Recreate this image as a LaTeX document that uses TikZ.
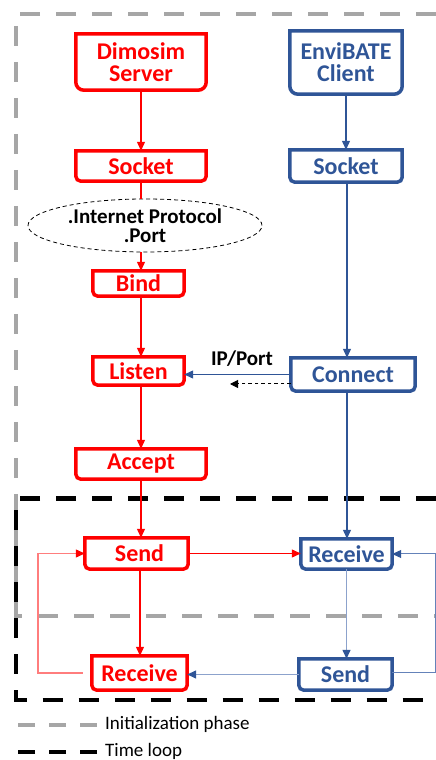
\documentclass[tikz,border=0pt]{standalone}
\usepackage{fontspec}
\setmainfont{Carlito}
\usetikzlibrary{arrows.meta,shapes.geometric}
\definecolor{cblue}{RGB}{47,85,151}
\definecolor{lblue}{RGB}{140,162,204}
\definecolor{mblue}{RGB}{100,130,185}
\definecolor{lred}{RGB}{255,125,125}
\definecolor{gdash}{RGB}{166,166,166}
\begin{document}
\begin{tikzpicture}[x=1pt,y=1pt,
  box/.style={inner sep=0pt, font=\fontsize{24}{22}\selectfont\bfseries, align=center},
  rbox/.style={box, text=red},
  bbox/.style={box, text=cblue},
  tip/.style={-{Triangle[length=9pt,width=8pt]}},
  rline/.style={red, line width=1.2pt},
  bline/.style={cblue, line width=1.2pt},
  gframe/.style={gdash, line width=4.5pt, dash pattern=on 20pt off 16pt},
  kframe/.style={black, line width=4.5pt, dash pattern=on 20pt off 16pt},
 ]
\useasboundingbox (0,0) rectangle (436,760);

% frames
\draw[gframe] (436,746) -- (16,746) -- (16,144) -- (436,144);
\draw[kframe] (436,261.5) -- (16,261.5) -- (16,60) -- (436,60);

% red column
\node[rbox, minimum width=130pt, minimum height=56pt] (dimo) at (141,698) {Dimosim\\Server};
\node[rbox, minimum width=130pt, minimum height=30pt] (sockR) at (141,594) {Socket};
\node[draw, dashed, dash pattern=on 4pt off 3pt, line width=0.8pt, ellipse, minimum width=234pt, minimum height=53pt, inner sep=0pt,
      font=\fontsize{21}{19}\selectfont\bfseries, align=center] (ip) at (145,534.5) {.Internet Protocol\\.Port};
\node[rbox, minimum width=91pt, minimum height=25pt] (bind) at (138.5,476.5) {Bind};
\node[rbox, minimum width=91pt, minimum height=28pt] (listen) at (138.5,389) {Listen};
\node[rbox, minimum width=130pt, minimum height=30pt] (accept) at (141,296) {Accept};
\node[rbox, minimum width=103pt, minimum height=31pt] (sendR) at (136.5,206.5) {\hspace*{6pt}Send};
\node[rbox, minimum width=95pt, minimum height=34pt] (recvR) at (139.5,87) {Receive};

% blue column
\node[bbox, minimum width=112pt, minimum height=63pt] (envi) at (346,697.5) {EnviBATE\\Client};
\node[bbox, minimum width=112pt, minimum height=32pt] (sockB) at (346,594) {Socket};
\node[bbox, minimum width=124pt, minimum height=33pt] (connect) at (353,385.5) {Connect};
\node[bbox, minimum width=91pt, minimum height=30pt] (recvB) at (346.5,206) {Receive};
\node[bbox, minimum width=93pt, minimum height=31pt] (sendB) at (345.5,85.5) {Send};

% box outlines (square top, rounded bottom)
\foreach \n/\c/\r in {dimo/red/8, sockR/red/5, bind/red/5, listen/red/5, accept/red/5, sendR/red/5, recvR/red/5,
                      envi/cblue/8, sockB/cblue/5, connect/cblue/5, recvB/cblue/5, sendB/cblue/5}
  \draw[\c, line width=3.5pt, line join=miter]
    (\n.north west) -- ([yshift=\r pt]\n.south west) arc[start angle=180, end angle=270, radius=\r pt]
    -- ([xshift=-\r pt]\n.south east) arc[start angle=270, end angle=360, radius=\r pt]
    -- (\n.north east) -- cycle;

% red connectors
\draw[rline, tip] (dimo.south) -- (sockR.north);
\draw[rline] (sockR.south) -- (sockR.south |- ip.north);
\draw[rline, tip] (sockR.south |- ip.south) -- (sockR.south |- bind.north);
\draw[rline, tip] (sockR.south |- bind.south) -- (sockR.south |- listen.north);
\draw[rline, tip] (sockR.south |- listen.south) -- (accept.north);
\draw[rline, tip] (accept.south) -- (accept.south |- sendR.north);
\draw[rline, tip] ([xshift=-1pt]accept.south |- sendR.south) -- ([xshift=-1pt]accept.south |- recvR.north);

% blue connectors
\draw[bline, tip] (envi.south) -- (sockB.north);
\draw[bline, tip] ([xshift=1pt]sockB.south) -- ([xshift=1pt]sockB.south |- connect.north);
\draw[bline, tip] ([xshift=1pt]sockB.south |- connect.south) -- ([xshift=1pt]sockB.south |- recvB.north);
\draw[lblue, line width=1.4pt, -{Triangle[length=9pt,width=8pt,color=cblue]}] (recvB.south) -- (recvB.south |- sendB.north);

% connect -> listen
\draw[bline, tip] (connect.west) -- (listen.east |- connect.west);
\node[font=\fontsize{21}{21}\selectfont\bfseries, inner sep=0pt] (lbl) at (242,401) {IP/Port};
\coordinate (dashend) at (230,376);
\draw[black, line width=1pt, dash pattern=on 3.5pt off 3pt, -{Triangle[length=8pt,width=8pt]}] (connect.west |- dashend) -- (dashend);

% time loop exchanges
\draw[rline, tip] (sendR.east) -- (recvB.west |- sendR.east);
\draw[lblue, line width=1.4pt, -{Triangle[length=9pt,width=8pt,color=cblue]}] (sendB.west) -- (recvR.east |- sendB.west);
\coordinate (loopL) at (38,0);
\coordinate (loopR) at (435,0);
\draw[lred, line width=1.2pt, -{Triangle[length=9pt,width=8pt,color=red]}] ([xshift=-9pt]recvR.west) -| (loopL |- sendR.west) -- (sendR.west);
\draw[mblue, line width=1pt, -{Triangle[length=9pt,width=8pt,color=cblue]}] ([yshift=2pt]sendB.east) -| (loopR |- recvB.east) -- (recvB.east);

% legend
\node[anchor=west, inner sep=0pt, font=\fontsize{19}{19}\selectfont] (lg1) at (105,36) {Initialization phase};
\node[anchor=west, inner sep=0pt, font=\fontsize{19}{19}\selectfont] (lg2) at (105,9) {Time loop};
\draw[gdash, line width=4.5pt, dash pattern=on 17pt off 14pt] ([xshift=-8pt,yshift=-1pt]lg1.west) -- ([xshift=-87pt,yshift=-1pt]lg1.west);
\draw[black, line width=4.5pt, dash pattern=on 17pt off 14pt] ([xshift=-8pt,yshift=-1pt]lg2.west) -- ([xshift=-87pt,yshift=-1pt]lg2.west);
\end{tikzpicture}
\end{document}
